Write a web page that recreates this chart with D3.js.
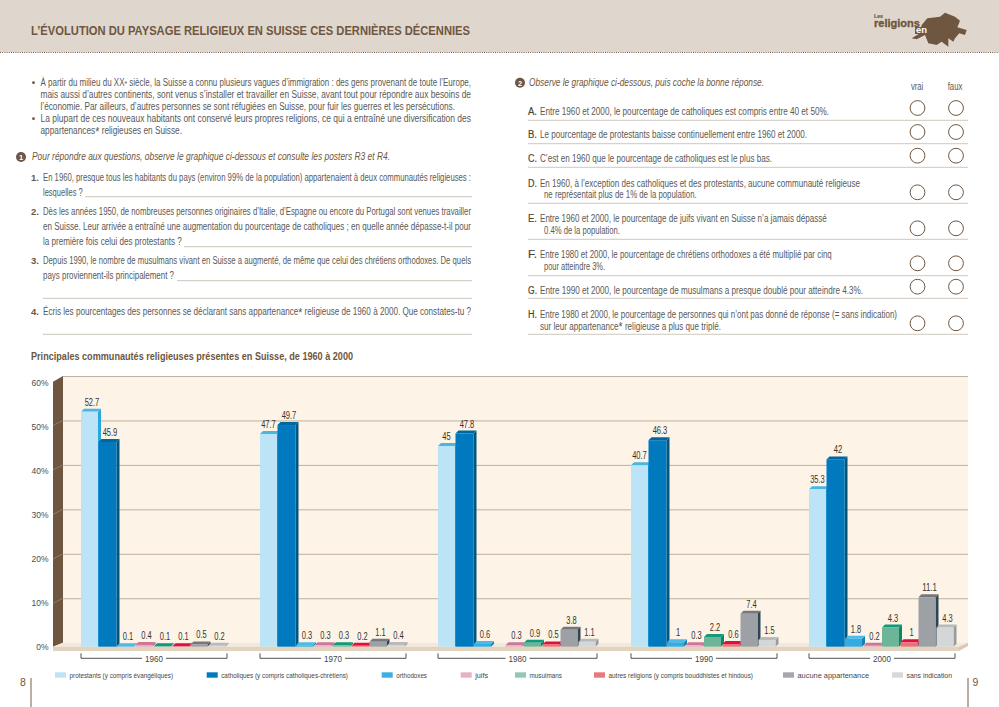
<!DOCTYPE html>
<html lang="fr"><head><meta charset="utf-8">
<script src="https://cdn.jsdelivr.net/npm/d3@7/dist/d3.min.js"></script>
<style>html,body{margin:0;padding:0;background:#fff;overflow:hidden}svg{display:block}</style>
</head><body><svg id="c" width="999" height="707"></svg>
<script>
// ---- chart values ----
const years = ["1960","1970","1980","1990","2000"];
const seriesNames = ["protestants (y compris évangéliques)","catholiques (y compris catholiques-chrétiens)","orthodoxes","juifs","musulmans","autres religions (y compris bouddhistes et hindous)","aucune appartenance","sans indication"];
const protestants = [52.7,47.7,45,40.7,35.3];
const catholiques = [45.9,49.7,47.8,46.3,42];
const orthodoxes  = [0.1,0.3,0.6,1,1.8];
const juifs       = [0.4,0.3,0.3,0.3,0.2];
const musulmans   = [0.1,0.3,0.9,2.2,4.3];
const autres      = [0.1,0.2,0.5,0.6,1];
const aucune      = [0.5,1.1,3.8,7.4,11.1];
const sansIndic   = [0.2,0.4,1.1,1.5,4.3];
const allSeries = [protestants,catholiques,orthodoxes,juifs,musulmans,autres,aucune,sansIndic];
const yTicks = [0,10,20,30,40,50,60];
// ---- palettes ----
const cFront = ["#bce3f6","#0079bf","#33ade1","#e9a9c1","#6db598","#ea727b","#9da0a5","#d5d6d8"];
const cTop   = ["#49b5e2","#00679f","#4bbbe8","#c9789a","#10997a","#df0f42","#74787d","#b8babc"];
const cSide  = ["#2aa7dc","#00567f","#0f83b5","#b55f84","#0a8a63","#b3002f","#2c4753","#979a9e"];
const cLegend= ["#bce3f6","#0079bf","#3ab0e2","#e9afc6","#90c8b4","#e87a7d","#a5a7ab","#d7d8da"];
const BROWN="#6e5640", GREY="#595957", SANS="'Liberation Sans',sans-serif";

const svg=d3.select("#c");
function txt(p,x,y,s,o={}){
  const t=p.append("text").attr("x",x).attr("y",y).attr("fill",o.fill||GREY)
    .attr("font-family",o.family||SANS).attr("font-size",o.size||10)
    .attr("font-weight",o.weight||"normal").attr("font-style",o.italic?"italic":"normal")
    .attr("text-anchor",o.anchor||"start");
  const parts=s.split("^");
  parts.forEach((q,i)=>{
    const ts=t.append("tspan").text(q);
    if(i%2){ts.attr("dy",q==="*"?1.5:-2.5).attr("font-size",q==="*"?13:6);}
    else if(i>0){ts.attr("dy",parts[i-1]==="*"?-1.5:2.5);}
  });
  if(o.end!=null){t.attr("textLength",o.end-x).attr("lengthAdjust","spacingAndGlyphs");}
  if(o.stroke){t.attr("stroke",o.fill||GREY).attr("stroke-width",o.stroke);}
  return t;
}
function rule(y,x0,x1,c="#cfc8bd",w=1){svg.append("line").attr("x1",x0).attr("x2",x1).attr("y1",y).attr("y2",y).attr("stroke",c).attr("stroke-width",w);}
function badge(x,y,n){svg.append("circle").attr("cx",x).attr("cy",y).attr("r",5).attr("fill",BROWN);
  txt(svg,x,y+2.8,n,{fill:"#fff",size:7.5,weight:"bold",anchor:"middle"});}

// header
svg.append("rect").attr("width",999).attr("height",52).attr("fill","#dfd7cd");
svg.append("line").attr("x1",0).attr("x2",999).attr("y1",52.5).attr("y2",52.5).attr("stroke",BROWN).attr("stroke-dasharray","1 1.2");
txt(svg,31,35,"L’ÉVOLUTION DU PAYSAGE RELIGIEUX EN SUISSE CES DERNIÈRES DÉCENNIES",{fill:BROWN,size:12,weight:"bold",end:470});
// logo
const mapPts=[[215,115],[240,100],[245,75],[262,55],[300,50],[315,38],[345,50],[360,62],[352,82],[380,90],[375,105],[358,100],[345,115],[340,125],[325,115],[325,140],[305,125],[290,135],[265,130],[255,105],[230,118]];
svg.append("path").attr("d",d3.line().x(d=>840+d[0]/3).y(d=>d[1]/3)(mapPts)+"Z").attr("fill",BROWN);
svg.append("rect").attr("x",915).attr("y",27).attr("width",13).attr("height",7).attr("fill",BROWN);
txt(svg,874,18,"Les",{fill:BROWN,size:6,weight:"bold",end:883,stroke:.2});
txt(svg,874,26.5,"religions",{fill:BROWN,size:11.5,weight:"bold",end:920,stroke:.35});
txt(svg,916,33,"en",{fill:"#fff",size:8.5,weight:"bold",end:927});

// left text
[[40.5,86,"À partir du milieu du XX^e^ siècle, la Suisse a connu plusieurs vagues d’immigration : des gens provenant de toute l’Europe,",471],
 [40.5,98,"mais aussi d’autres continents, sont venus s’installer et travailler en Suisse, avant tout pour répondre aux besoins de",471],
 [40.5,110,"l’économie. Par ailleurs, d’autres personnes se sont réfugiées en Suisse, pour fuir les guerres et les persécutions.",455],
 [40.5,122,"La plupart de ces nouveaux habitants ont conservé leurs propres religions, ce qui a entraîné une diversification des",471],
 [40.5,134,"appartenances^*^ religieuses en Suisse.",182],
 [43,180.5,"En 1960, presque tous les habitants du pays (environ 99% de la population) appartenaient à deux communautés religieuses :",471],
 [43,195.5,"lesquelles ?",82.7],
 [43,215,"Dès les années 1950, de nombreuses personnes originaires d’Italie, d’Espagne ou encore du Portugal sont venues travailler",471],
 [43,230,"en Suisse. Leur arrivée a entraîné une augmentation du pourcentage de catholiques ; en quelle année dépasse-t-il pour",471],
 [43,245,"la première fois celui des protestants ?",181.7],
 [43,264,"Depuis 1990, le nombre de musulmans vivant en Suisse a augmenté, de même que celui des chrétiens orthodoxes. De quels",471],
 [43,279,"pays proviennent-ils principalement ?",174],
 [43,315,"Écris les pourcentages des personnes se déclarant sans appartenance^*^ religieuse de 1960 à 2000. Que constates-tu ?",471]
].forEach(d=>txt(svg,d[0],d[1],d[2],{end:d[3]}));
[82.7,118.7].forEach(y=>svg.append("circle").attr("cx",33.5).attr("cy",y).attr("r",1.4).attr("fill",BROWN));
badge(21,157,"1");
txt(svg,32,160,"Pour répondre aux questions, observe le graphique ci-dessous et consulte les posters R3 et R4.",{fill:BROWN,italic:true,end:390});
[["1.",180.5],["2.",215],["3.",264],["4.",315]].forEach(d=>txt(svg,31,d[1],d[0],{fill:BROWN,weight:"bold",size:9.5}));
[[196.7,85],[246.7,184],[280.7,177],[298.3,43],[334.3,43]].forEach(d=>rule(d[0],d[1],472,"#cbc5ba"));
txt(svg,31,360,"Principales communautés religieuses présentes en Suisse, de 1960 à 2000",{fill:BROWN,size:10.5,weight:"bold",end:353});

// right text
badge(520,82.7,"2");
txt(svg,529,86,"Observe le graphique ci-dessous, puis coche la bonne réponse.",{fill:BROWN,italic:true,end:764});
txt(svg,911,90,"vrai",{end:923.3});
txt(svg,947.7,90,"faux",{end:962.3});
const stmts=[
 ["A.",[[540,115,"Entre 1960 et 2000, le pourcentage de catholiques est compris entre 40 et 50%.",829]],120.3,108],
 ["B.",[[540,138,"Le pourcentage de protestants baisse continuellement entre 1960 et 2000.",807]],143.7,132],
 ["C.",[[540,162,"C’est en 1960 que le pourcentage de catholiques est le plus bas.",772]],167.3,155.7],
 ["D.",[[540,186.5,"En 1960, à l’exception des catholiques et des protestants, aucune communauté religieuse",860],[544,198,"ne représentait plus de 1% de la population.",696.7]],203.3,192.3],
 ["E.",[[540,222,"Entre 1960 et 2000, le pourcentage de juifs vivant en Suisse n’a jamais dépassé",826.7],[544,234,"0.4% de la population.",620]],239.3,228.3],
 ["F.",[[540,258,"Entre 1980 et 2000, le pourcentage de chrétiens orthodoxes a été multiplié par cinq",831.7],[544,270,"pour atteindre 3%.",605]],275.7,263.3],
 ["G.",[[540,294,"Entre 1990 et 2000, le pourcentage de musulmans a presque doublé pour atteindre 4.3%.",863]],298.3,286.7],
 ["H.",[[540,317.5,"Entre 1980 et 2000, le pourcentage de personnes qui n’ont pas donné de réponse (= sans indication)",897],[540,329.5,"sur leur appartenance^*^ religieuse a plus que triplé.",721]],334.3,323.3]
];
stmts.forEach(s=>{
  txt(svg,528,s[1][0][1],s[0],{fill:"#4f4435",size:10,end:537,stroke:.2});
  s[1].forEach(l=>txt(svg,l[0],l[1],l[2],{end:l[3]}));
  rule(s[2],528,968,"#cfc8bd");
  [917.5,956].forEach(x=>svg.append("circle").attr("cx",x).attr("cy",s[3]).attr("r",7.4).attr("fill","none").attr("stroke",BROWN).attr("stroke-width",1));
});

// ---- chart ----
const yBack=d3.scaleLinear().domain([0,60]).range([642.7,376]);
const yLabel=d3.scaleLinear().domain([0,60]).range([647,382.5]);
const yBar=d3.scaleLinear().domain([0,60]).range([646.7,379.1]);
const wallL=53,wallR=63,wallEnd=968,floorEnd=959;
const plot=svg.append("g");
plot.append("rect").attr("x",wallR).attr("y",yBack(60)).attr("width",wallEnd-wallR).attr("height",yBack(0)-yBack(60)).attr("fill","#fdf3e7");
// side wall and floor
plot.append("polygon").attr("points",[[wallL,381.7],[wallR,yBack(60)],[wallR,yBack(0)],[wallL,646.7]].join(" ")).attr("fill",BROWN);
plot.append("polygon").attr("points",[[wallL,646.7],[wallR,yBack(0)],[wallEnd,yBack(0)],[floorEnd,646.7]].join(" ")).attr("fill","#f3e8d9");
plot.append("rect").attr("x",wallL).attr("y",646.7).attr("width",floorEnd-wallL).attr("height",4.3).attr("fill","#e2d3bf");
plot.append("polygon").attr("points",[[floorEnd,646.7],[wallEnd,yBack(0)],[wallEnd,646],[floorEnd,651]].join(" ")).attr("fill","#d9c9b4");
// grid via axis
const grid=plot.append("g").attr("transform",`translate(${wallR},0)`).call(d3.axisRight(yBack).tickValues(yTicks.slice(1)).tickSize(wallEnd-wallR).tickFormat(""));
grid.select(".domain").remove();
grid.selectAll("line").attr("stroke","#bdb0a0").attr("stroke-width",1);
plot.selectAll("line.diag").data(yTicks.slice(1,6)).join("line").attr("class","diag")
  .attr("x1",wallL).attr("x2",wallR).attr("y1",d=>yBack(d)+5).attr("y2",d=>yBack(d)).attr("stroke","#9d8b77").attr("stroke-width",.7);
// y labels via axis
const ya=plot.append("g").attr("transform","translate(48.5,0)").call(d3.axisLeft(yLabel).tickValues(yTicks).tickSize(0).tickPadding(0).tickFormat(d=>d+"%"));
ya.select(".domain").remove();
ya.selectAll("text").attr("font-family",SANS).attr("font-size",8.5).attr("fill","#4d4d4b");

// bars
const groupX=d3.scaleOrdinal().domain(years).range([81,260,438,631,809]);
const slot=d3.scaleOrdinal().domain(d3.range(8)).range([0,17.5,36,54.5,73,91.5,109.5,127.5]);
const gapAfterOrtho=d3.scaleOrdinal().domain(years).range([0,0,13,0,0]);
const widths=[17,18,17,17,17,17,17,17];
const dx=3,dy=3;
const labelShift=[0,2.5,2.5,2.5,2.5,2.5,2.5,2.5];
const firstShift=d3.scaleOrdinal().domain(years).range([2.5,0,0,0,0]);
const barData=[];
years.forEach((yr,g)=>allSeries.forEach((vals,s)=>barData.push({yr,s,v:vals[g]})));
const bx=d=>groupX(d.yr)+slot(d.s)+(d.s>=3?gapAfterOrtho(d.yr):0);
const bars=plot.selectAll("g.bar").data(barData).join("g").attr("class","bar");
bars.append("polygon").attr("fill",d=>cSide[d.s]).attr("points",d=>{const x=bx(d)+widths[d.s],t=yBar(d.v),b=yBar(0);return [[x,t],[x+dx,t-dy],[x+dx,b-dy],[x,b]].join(" ");});
bars.append("polygon").attr("fill",d=>cTop[d.s]).attr("points",d=>{const x=bx(d),w=widths[d.s],t=yBar(d.v);return [[x,t],[x+dx,t-dy],[x+w+dx,t-dy],[x+w,t]].join(" ");});
bars.append("rect").attr("fill",d=>cFront[d.s]).attr("x",bx).attr("y",d=>yBar(d.v)).attr("width",d=>widths[d.s]).attr("height",d=>yBar(0)-yBar(d.v));
// condensed value labels: width fitted to the characters
const labelWidth=v=>{const s=String(v);return s.replace(/\./g,"").length*4.2+(s.includes(".")?2:0);};
bars.append("text").text(d=>d.v).attr("x",d=>bx(d)+widths[d.s]/2+labelShift[d.s]+(d.s===0?firstShift(d.yr):0)).attr("y",d=>yBar(d.v)-6)
  .attr("text-anchor","middle").attr("font-family",SANS).attr("font-size",10).attr("fill","#333331")
  .attr("textLength",d=>labelWidth(d.v)).attr("lengthAdjust","spacingAndGlyphs");

// year brackets
years.forEach(yr=>{
  const x0=groupX(yr),x1=x0+146+gapAfterOrtho(yr),m=(x0+x1)/2;
  plot.append("path").attr("fill","none").attr("stroke","#3d3d3b").attr("stroke-width",.9)
    .attr("d",`M${x0},653.3V658.3H${m-12}M${m+12},658.3H${x1}V653.3`);
  txt(plot,m-9,662,yr,{size:9,fill:"#444",end:m+9});
});

// legend
const legX=[55,206.7,381.7,460.7,515,594,783,892];
const legTextEnd=[173,348,427,488,562,753,869,952];
seriesNames.forEach((n,i)=>{
  svg.append("rect").attr("x",legX[i]).attr("y",672.3).attr("width",11).attr("height",5.4).attr("fill",cLegend[i]);
  txt(svg,legX[i]+14.5,678,n,{size:7.6,fill:"#454543",end:legTextEnd[i]});
});
// folios
svg.append("line").attr("x1",31).attr("x2",31).attr("y1",678).attr("y2",707).attr("stroke","#8a7a66").attr("stroke-width",1.2);
svg.append("line").attr("x1",968).attr("x2",968).attr("y1",678).attr("y2",707).attr("stroke","#8a7a66").attr("stroke-width",1.2);
txt(svg,23,685.5,"8",{anchor:"middle",size:10.5,fill:BROWN});
txt(svg,975.5,685.5,"9",{anchor:"middle",size:10.5,fill:BROWN});
</script></body></html>
